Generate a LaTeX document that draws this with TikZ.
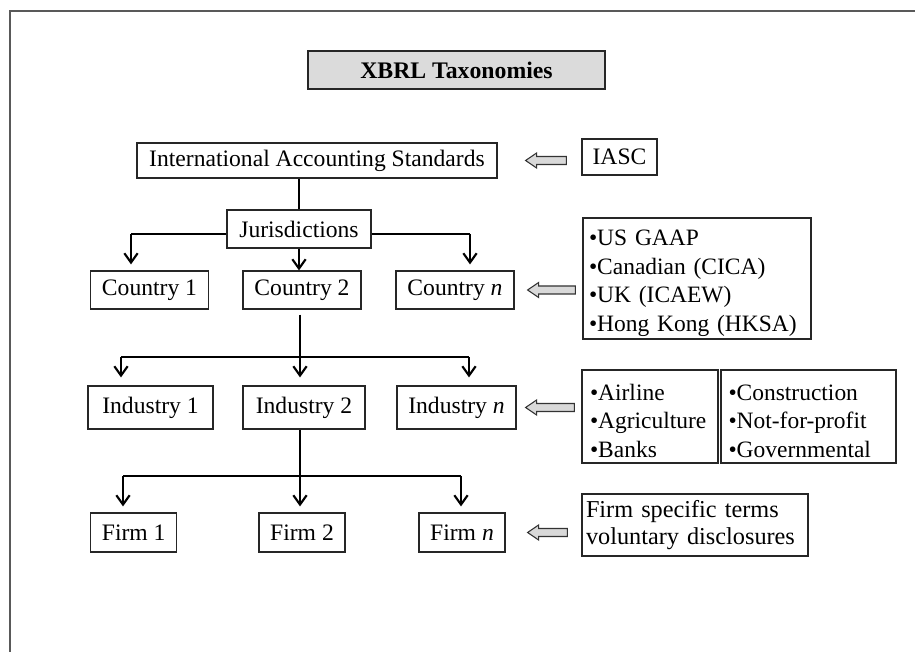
\documentclass[tikz,border=0pt]{standalone}
\usepackage{fontspec}
\setmainfont{Liberation Serif}
\usetikzlibrary{arrows.meta,calc}
\newcommand{\hollowarrow}[2]{%
  \draw[hollow] (#1) -- ($(#1)+(11,-7.5)$) -- ($(#1)+(11,-4)$) -- ($(#2)+(0,-4)$)
    -- ($(#2)+(0,4)$) -- ($(#1)+(11,4)$) -- ($(#1)+(11,7.5)$) -- cycle;}
\newcommand{\liftstrut}{\rule{0pt}{18.5pt}}
\begin{document}
\begin{tikzpicture}[x=0.75pt,y=-0.75pt,
  box/.style={draw=black!85,line width=0.9pt,inner sep=0pt,font=\fontsize{17.7}{21.4}\selectfont},
  listbox/.style={draw=black!85,line width=0.9pt,align=left,inner ysep=0pt,font=\fontsize{17.6}{21.4}\selectfont},
  thinl/.style={draw=black,line width=1pt},
  drop/.style={draw=black,line width=1.6pt,-{Straight Barb[length=7pt,width=10pt,line width=1.6pt]}},
  hollow/.style={draw=black!80,line width=0.8pt,fill=black!15,line join=miter},
  frame/.style={draw=black!65,line width=1.6pt}]
\useasboundingbox (0,0) rectangle (915,652);
\draw[frame] (10,652) -- (10,11) -- (915,11);

% title
\node[box,fill=black!14,line width=1.2pt,minimum width=222.75pt,minimum height=28.5pt,font=\fontsize{17.8}{21}\selectfont\bfseries] (title) at (456.5,70) {XBRL Taxonomies};

% top
\node[box,minimum width=270pt,minimum height=26.25pt] (ias) at (317,160.5) {International Accounting Standards};
\node[box,minimum width=56.25pt,minimum height=27pt] (iasc) at (619.5,157) {IASC};
\node[box,minimum width=108pt,minimum height=28.5pt] (jur) at (299,229) {Jurisdictions};

% countries
\node[box,minimum width=88.5pt,minimum height=28.5pt] (c1) at (149.5,290) {Country 1};
\node[box,minimum width=88.5pt,minimum height=28.5pt] (c2) at (302,290) {Country 2};
\node[box,minimum width=88.5pt,minimum height=28.5pt] (cn) at (455,290) {Country \textit{n}};
\node[listbox,text width=162pt,inner xsep=4.5pt,minimum height=90.75pt] (list1) at (697,278.5)
  {\liftstrut•US GAAP\\•Canadian (CICA)\\•UK (ICAEW)\\•Hong Kong (HKSA)};

% industries
\node[box,minimum width=93.75pt,minimum height=32.25pt] (i1) at (150.5,407.5) {Industry 1};
\node[box,minimum width=91.5pt,minimum height=32.25pt] (i2) at (304,407.5) {Industry 2};
\node[box,minimum width=89.25pt,minimum height=32.25pt] (in) at (456.5,407.5) {Industry \textit{n}};
\node[listbox,text width=90pt,inner xsep=6pt,minimum height=69.75pt] (l2a) at (650,416.5)
  {\liftstrut•Airline\\•Agriculture\\•Banks};
\node[listbox,text width=120pt,inner xsep=5.625pt,minimum height=69.75pt] (l2b) at (808.5,416.5)
  {\liftstrut•Construction\\•Not-for-profit\\•Governmental};

% firms
\node[box,minimum width=64.5pt,minimum height=29.25pt] (f1) at (133.7,532.5) {Firm 1};
\node[box,minimum width=64.5pt,minimum height=29.25pt] (f2) at (302,532.5) {Firm 2};
\node[box,minimum width=64.5pt,minimum height=29.25pt] (fn) at (462,532.5) {Firm \textit{n}};
\node[listbox,text width=163.5pt,inner xsep=3pt,minimum height=46.5pt,font=\fontsize{18.2}{20}\selectfont] (flist) at (695,525)
  {Firm specific terms\\voluntary disclosures};

% connectors row 1
\draw[thinl] (jur.north) -- (jur.north |- ias.south);
\coordinate (jl) at (131,234);
\coordinate (jr) at (470,234);
\draw[thinl] (jur.west |- jl) -- (jl);
\draw[thinl] (jur.east |- jr) -- (jr);
\draw[drop] (jl) -- ($(jl |- c1.north)+(0,-6)$);
\draw[drop] (jr) -- ($(jr |- cn.north)+(0,-6)$);
\draw[drop] (jur.south) -- (jur.south |- c2.north);

% connectors row 2
\coordinate (h2) at (300,357);
\coordinate (il) at (121,357);
\coordinate (ir) at (469,357);
\draw[thinl] ($(c2.south)+(-2,5)$) -- (h2);
\draw[thinl] (il) -- (ir);
\draw[drop] (il) -- ($(il |- i1.north)+(0,-8)$);
\draw[drop] (h2) -- ($(h2 |- i2.north)+(0,-8)$);
\draw[drop] (ir) -- ($(ir |- in.north)+(0,-8)$);

% connectors row 3
\coordinate (h3) at (300,476);
\coordinate (fl) at (123,476);
\coordinate (fr) at (461,476);
\draw[thinl] ($(i2.south)+(-4,0)$) -- (h3);
\draw[thinl] (fl) -- (fr);
\draw[drop] (fl) -- ($(fl |- f1.north)+(0,-6)$);
\draw[drop] (h3) -- ($(h3 |- f2.north)+(0,-6)$);
\draw[drop] (fr) -- ($(fr |- fn.north)+(0,-6)$);

% hollow arrows
\coordinate (a1h) at ($(ias.east)+(28,0)$);
\coordinate (a1t) at ($(iasc.west |- a1h)+(-15,0)$);
\hollowarrow{a1h}{a1t}
\coordinate (a2h) at ($(cn.east)+(13,0)$);
\coordinate (a2t) at ($(list1.west |- a2h)+(-7,0)$);
\hollowarrow{a2h}{a2t}
\coordinate (a3h) at ($(in.east)+(9,0)$);
\coordinate (a3t) at ($(l2a.west |- a3h)+(-7,0)$);
\hollowarrow{a3h}{a3t}
\coordinate (a4h) at ($(fn.east)+(22,0)$);
\coordinate (a4t) at ($(flist.west |- a4h)+(-14,0)$);
\hollowarrow{a4h}{a4t}
\end{tikzpicture}
\end{document}
